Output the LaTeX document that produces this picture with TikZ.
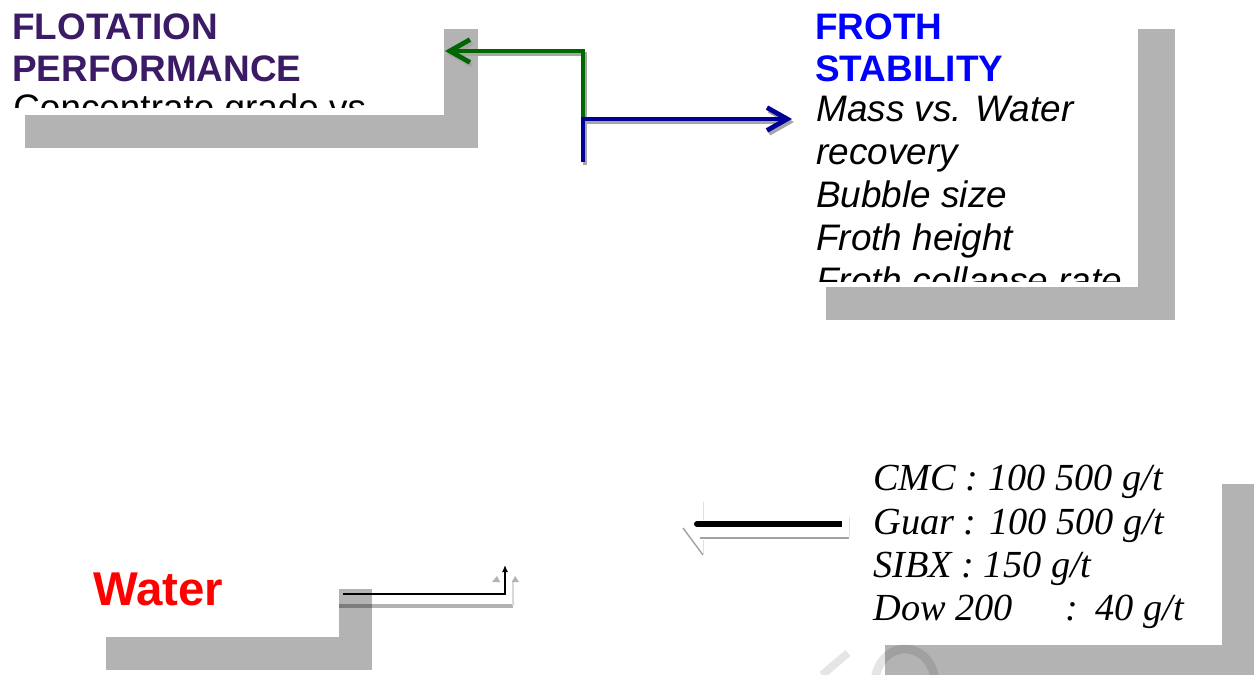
\documentclass[tikz,border=0pt]{standalone}
\usepackage{fontspec}
\setmainfont{Liberation Serif}
\setsansfont{Liberation Sans}
\usetikzlibrary{positioning,arrows.meta}
\definecolor{shadowc}{HTML}{B3B3B3}
\definecolor{flotc}{HTML}{3B1A66}
\definecolor{frothc}{HTML}{0000FF}
\definecolor{greenc}{HTML}{006600}
\definecolor{bluec}{HTML}{000099}
\definecolor{waterc}{HTML}{FF0000}
% box with drop shadow: corners #1,#2 and #3,#4, offset #5,#6
\newcommand{\dropbox}[6]{%
  \fill[shadowc] ({#1+#5},{#2+#6}) rectangle ({#3+#5},{#4+#6});
  \fill[white] (#1,#2) rectangle (#3,#4);
}
\tikzset{
  head/.style={font=\sffamily\bfseries\fontsize{21}{24}\selectfont, align=left, inner sep=0pt, anchor=north west},
  body/.style={font=\sffamily\itshape\fontsize{21}{24.5}\selectfont, align=left, inner sep=0pt, anchor=north west},
  dose/.style={font=\rmfamily\itshape\fontsize{21.8}{24.6}\selectfont, align=left, inner sep=0pt, anchor=north west},
  link/.style={line width=2.7pt, -{Straight Barb[length=11.5pt,width=13pt]}},
  linkshadow/.style={link, black!35, transform canvas={shift={(2,3)}}},
  faint/.style={black, opacity=0.1}
}

\begin{document}
\begin{tikzpicture}[x=0.02cm,y=-0.02cm]
  \useasboundingbox (0,0) rectangle (1254,675);

  % boxes
  \dropbox{-9}{-4}{444}{115}{34}{33}
  \dropbox{789}{-4}{1138}{287}{37}{33}
  \dropbox{853}{454}{1222}{645}{32}{30}
  \dropbox{73}{556}{339}{637}{33}{33}

  % faint marks at the bottom
  \draw[faint, line width=4.5pt] (822,675) -- (848,653);
  \draw[faint, line width=5pt] (905,683) ellipse [x radius=0.6cm, y radius=0.68cm];

  % flotation performance
  \node[head, text=flotc] (flot) at (12,13) {FLOTATION\\PERFORMANCE};
  \begin{scope}
    \clip (-9,-4) rectangle (444,108);
    \node[body, font=\sffamily\upshape\fontsize{21}{24.5}\selectfont] (conc) at (13,93) {Concentrate grade vs};
  \end{scope}

  % froth stability
  \node[head, text=frothc] (froth) at (815,13) {FROTH\\STABILITY};
  \begin{scope}
    \clip (789,-4) rectangle (1138,282);
    \node[body] (frothlist) at (816,96) {Mass vs. Water\\recovery\\Bubble size\\Froth height\\Froth collapse rate};
  \end{scope}

  % connectors
  \coordinate (hub) at (583,119);
  \coordinate (stem) at (583,162);
  \coordinate (flotin) at (445,51);
  \coordinate (frothin) at (792,119);
  \draw[linkshadow] (hub) |- (flotin);
  \draw[linkshadow] (stem) |- (frothin);
  \draw[link, greenc] (hub) |- (flotin);
  \draw[link, bluec] (stem) |- (frothin);

  % reagents
  \node[dose] (reagents) at (873,465) {CMC : 100 500 g/t\\Guar : 100 500 g/t\\SIBX : 150 g/t\\Dow 200\hspace{1.05cm}:\hspace{0.35cm}40 g/t};
  \coordinate (dosefrom) at (842,524);
  \coordinate (doseto) at (694,524);
  \draw[black!37, line width=1.7pt] (700,538) -- (849,538);
  \draw[black!37, line width=0.8pt] (683,528) -- (703,555);
  \draw[black!12, line width=0.5pt] (703,502) -- (703,520) (703,540) -- (703,555) (849,517) -- (849,537);
  \draw[black, line width=3.4pt, -{Round Cap}] (dosefrom) -- (doseto);

  % water
  \node[font=\sffamily\bfseries\fontsize{27}{30}\selectfont, text=waterc, inner sep=0pt, anchor=north west] (water) at (93,573) {Water};
  \coordinate (wfrom) at (343,594);
  \coordinate (wto) at (505,565);
  \draw[black, opacity=0.3, line width=2.2pt] (339,606) -- (513,606);
  \draw[black!15, line width=0.6pt] (513,606) -- (513,580);
  \fill[shadowc] (492,582) -- (497,576) -- (500,582) -- cycle;
  \fill[shadowc] (512,582) -- (515,576) -- (519,582) -- cycle;
  \draw[black, line width=1.1pt, -{Latex[length=4pt,width=3.5pt]}] (wfrom) -| (wto);
\end{tikzpicture}
\end{document}
